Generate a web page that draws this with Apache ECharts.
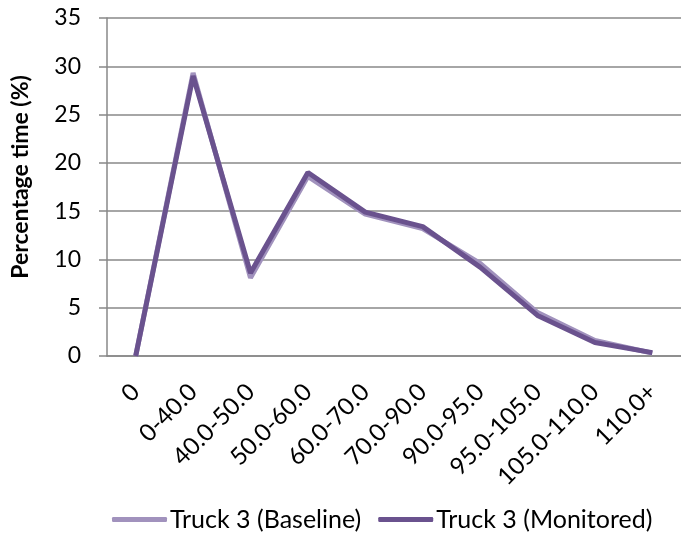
<!DOCTYPE html>
<html>
<head>
<meta charset="utf-8">
<script src="https://cdn.jsdelivr.net/npm/echarts@6/dist/echarts.min.js"></script>
<style>
  html, body { margin: 0; padding: 0; background: #fff; }
  #chart { width: 681px; height: 537px; }
</style>
</head>
<body>
<div id="chart"></div>
<script>
// speed bands (km/h)
var categories = ['0', '0-40.0', '40.0-50.0', '50.0-60.0', '60.0-70.0', '70.0-90.0',
  '90.0-95.0', '95.0-105.0', '105.0-110.0', '110.0+'];
var baseline = [0, 29.3, 8.1, 18.6, 14.7, 13.2, 9.6, 4.5, 1.6, 0.3];
var monitored = [0, 29.0, 8.6, 19.0, 14.9, 13.4, 9.2, 4.2, 1.4, 0.35];

var chartDom = document.getElementById('chart');
var myChart = echarts.init(chartDom);
var font = 'Lato';
var option = {
  animation: false,
  textStyle: { fontFamily: font },
  grid: {
    left: 107, right: 0, top: 18, bottom: 181,
    outerBoundsMode: 'none'
  },
  legend: {
    top: 502,
    left: 107,
    icon: 'roundRect',
    itemWidth: 55,
    itemHeight: 5,
    itemGap: 17,
    textStyle: { fontFamily: font, fontSize: 25, color: '#000', padding: [0, 0, 0, -2] },
    data: ['Truck 3 (Baseline)', 'Truck 3 (Monitored)']
  },
  xAxis: {
    type: 'category',
    data: categories,
    boundaryGap: true,
    axisLine: { lineStyle: { color: '#888', width: 1.5 } },
    axisTick: { length: 7, lineStyle: { color: '#888', width: 1.5 } },
    axisLabel: { rotate: 45, interval: 0, margin: 32, color: '#000', fontSize: 24, fontFamily: font }
  },
  yAxis: {
    type: 'value',
    min: 0, max: 35, interval: 5,
    name: 'Percentage time (%)',
    nameLocation: 'middle',
    nameGap: 75,
    nameTextStyle: { fontSize: 23, fontWeight: 'bold', color: '#000', fontFamily: font, padding: [0, 0, 0, 20] },
    axisLine: { show: true, lineStyle: { color: '#888', width: 1.5 } },
    axisTick: { show: true, length: 8, lineStyle: { color: '#888', width: 1.5 } },
    axisLabel: { margin: 26, color: '#000', fontSize: 23, fontFamily: font },
    splitLine: { lineStyle: { color: '#888', width: 1.5 } }
  },
  series: [
    {
      name: 'Truck 3 (Baseline)',
      type: 'line',
      data: baseline,
      symbol: 'none',
      lineStyle: { color: '#a192bd', width: 5 },
      itemStyle: { color: '#a192bd' }
    },
    {
      name: 'Truck 3 (Monitored)',
      type: 'line',
      data: monitored,
      symbol: 'none',
      lineStyle: { color: '#6a528e', width: 5 },
      itemStyle: { color: '#6a528e' }
    }
  ]
};
option && myChart.setOption(option);
</script>
</body>
</html>
